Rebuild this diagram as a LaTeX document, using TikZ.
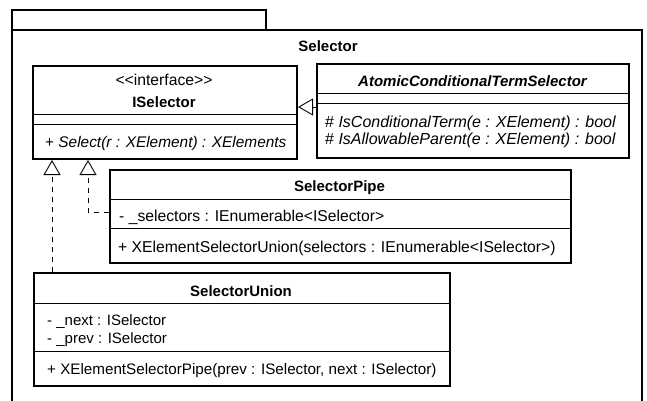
\documentclass[tikz,border=0pt]{standalone}
\usepackage{fontspec}
\setmainfont{Liberation Sans}[Ligatures=TeXOff]
\usetikzlibrary{arrows.meta}
\begin{document}
\begin{tikzpicture}[x=1pt,y=-1pt,
  box/.style={draw, line width=2pt, fill=white, inner sep=0pt, anchor=north west},
  pkg/.style={draw, line width=1.8pt},
  divider/.style={line width=0.9pt},
  txt/.style={inner sep=0pt, font=\fontsize{15.7}{18}\selectfont},
  lft/.style={txt, anchor=base west},
  ctr/.style={txt, anchor=base},
  ttl/.style={ctr, font=\fontsize{15}{18}\selectfont\bfseries},
  gen/.style={line width=0.9pt, -{Triangle[open, length=15pt, width=17pt, line width=0.9pt]}},
  real/.style={gen, dash pattern=on 5pt off 5pt}]
\useasboundingbox (0,0) rectangle (647,401);
\fill[white] (0,0) rectangle (647,401);
% package
\draw[pkg] (12,10) rectangle (266,30);
\draw[pkg] (12,405) -- (12,30) -- (642,30) -- (642,405);
\node[ttl] (pkglabel) at (328,52) {Selector};
% ISelector
\node[box, minimum width=264pt, minimum height=93pt] (isel) at (32,65) {};
\draw[divider] (32,114) -- (296,114);
\draw[divider] (32,124) -- (296,124);
\node[ctr] (iselst) at (164,86) {<<interface>>};
\node[ttl] (iselname) at (164,108) {ISelector};
\node[lft, font=\fontsize{15.4}{18}\selectfont] (iselop) at (45,147) {+ \textit{Select(r : XElement) : XElements}};
% AtomicConditionalTermSelector
\node[box, minimum width=312pt, minimum height=94pt] (acts) at (316,63) {};
\draw[divider] (316,93) -- (628,93);
\draw[divider] (316,103) -- (628,103);
\node[ttl, font=\fontsize{15}{18}\selectfont\bfseries\itshape] (actsname) at (472.5,87) {AtomicConditionalTermSelector};
\node[lft, font=\fontsize{16}{18}\selectfont] (actsop1) at (325,127) {\# \textit{IsConditionalTerm(e : XElement) : bool}};
\node[lft, font=\fontsize{16}{18}\selectfont] (actsop2) at (325,144) {\# \textit{IsAllowableParent(e : XElement) : bool}};
% SelectorPipe
\node[box, minimum width=461pt, minimum height=93pt] (pipe) at (109,169) {};
\draw[divider] (109,199) -- (570,199);
\draw[divider] (109,228) -- (570,228);
\node[ttl] (pipename) at (339.5,191) {SelectorPipe};
\node[lft] (pipeattr) at (119,221) {- \_selectors : IEnumerable<ISelector>};
\node[lft] (pipeop) at (118,252) {+ XElementSelectorUnion(selectors : IEnumerable<ISelector>)};
% SelectorUnion
\node[box, minimum width=416pt, minimum height=113pt] (union) at (33,272) {};
\draw[divider] (33,303) -- (449,303);
\draw[divider] (33,351) -- (449,351);
\node[ttl] (unionname) at (241,296) {SelectorUnion};
\node[lft, font=\fontsize{15}{18}\selectfont] (unionattr1) at (47,325) {- \_next : ISelector};
\node[lft, font=\fontsize{15}{18}\selectfont] (unionattr2) at (47,343) {- \_prev : ISelector};
\node[lft, font=\fontsize{15.2}{18}\selectfont] (unionop) at (47,374) {+ XElementSelectorPipe(prev : ISelector, next : ISelector)};
% connectors
\coordinate (gy) at (0,107);
\coordinate (ax1) at (52,0);
\coordinate (ax2) at (88,0);
\coordinate (py) at (0,212);
\draw[gen] (acts.west |- gy) -- (isel.east |- gy);
\draw[real] (union.north -| ax1) -- (isel.south -| ax1);
\draw[real] (pipe.west |- py) -| (isel.south -| ax2);
\end{tikzpicture}
\end{document}
